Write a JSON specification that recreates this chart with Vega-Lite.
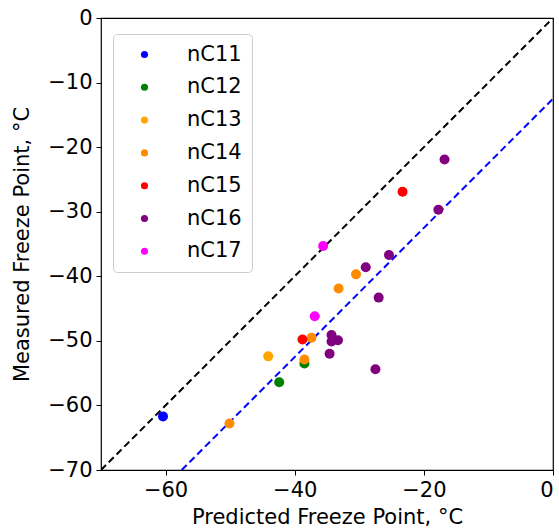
{
  "$schema": "https://vega.github.io/schema/vega-lite/v6.json",
  "width": 452,
  "height": 452,
  "autosize": {"type": "none"},
  "padding": {"left": 101, "top": 18, "right": 6, "bottom": 59},
  "background": "white",
  "config": {
    "font": "DejaVu Sans",
    "view": {"stroke": "black", "strokeWidth": 1.2},
    "axis": {
      "grid": false,
      "domain": false,
      "tickColor": "black",
      "tickSize": 5,
      "tickWidth": 1,
      "labelFontSize": 21,
      "labelColor": "black",
      "titleFontSize": 21,
      "titleFontWeight": "normal",
      "titleColor": "black",
      "labelExpr": "replace(datum.label, '-', '−')"
    }
  },
  "datasets": {
    "pts": [
      {"x": -60.4, "y": -61.7, "series": "nC11"},
      {"x": -42.4, "y": -56.4, "series": "nC12"},
      {"x": -38.5, "y": -53.5, "series": "nC12"},
      {"x": -44.1, "y": -52.4, "series": "nC13"},
      {"x": -38.5, "y": -52.9, "series": "nC14"},
      {"x": -37.4, "y": -49.5, "series": "nC14"},
      {"x": -50.1, "y": -62.8, "series": "nC14"},
      {"x": -33.2, "y": -41.9, "series": "nC14"},
      {"x": -30.5, "y": -39.7, "series": "nC14"},
      {"x": -23.3, "y": -26.9, "series": "nC15"},
      {"x": -38.8, "y": -49.8, "series": "nC15"},
      {"x": -16.8, "y": -21.9, "series": "nC16"},
      {"x": -17.75, "y": -29.7, "series": "nC16"},
      {"x": -25.4, "y": -36.7, "series": "nC16"},
      {"x": -29.0, "y": -38.6, "series": "nC16"},
      {"x": -27.0, "y": -43.3, "series": "nC16"},
      {"x": -34.3, "y": -49.1, "series": "nC16"},
      {"x": -34.3, "y": -50.1, "series": "nC16"},
      {"x": -33.3, "y": -49.9, "series": "nC16"},
      {"x": -34.6, "y": -52.0, "series": "nC16"},
      {"x": -27.5, "y": -54.4, "series": "nC16"},
      {"x": -35.6, "y": -35.3, "series": "nC17"},
      {"x": -36.9, "y": -46.2, "series": "nC17"}
    ],
    "lines": [
      {"x": -70, "y": -70, "line": "identity"},
      {"x": 0, "y": 0, "line": "identity"},
      {"x": -57.5, "y": -70, "line": "offset"},
      {"x": 0, "y": -12.5, "line": "offset"}
    ]
  },
  "layer": [
    {
      "data": {"name": "lines"},
      "mark": {"type": "line", "strokeDash": [7, 4], "strokeWidth": 2, "clip": true},
      "encoding": {
        "x": {"field": "x", "type": "quantitative"},
        "y": {"field": "y", "type": "quantitative"},
        "detail": {"field": "line"},
        "color": {"field": "line", "type": "nominal", "scale": {"domain": ["identity", "offset"], "range": ["black", "blue"]}, "legend": null}
      }
    },
    {
      "data": {"name": "pts"},
      "mark": {"type": "circle", "size": 100, "opacity": 1},
      "encoding": {
        "x": {"field": "x", "type": "quantitative", "scale": {"domain": [-70, 0], "nice": false},
              "axis": {"values": [-60, -40, -20, 0], "title": "Predicted Freeze Point, °C", "titlePadding": 6, "labelPadding": 4}},
        "y": {"field": "y", "type": "quantitative", "scale": {"domain": [-70, 0], "nice": false},
              "axis": {"values": [-70, -60, -50, -40, -30, -20, -10, 0], "title": "Measured Freeze Point, °C", "titlePadding": 15, "labelPadding": 4}},
        "fill": {
          "field": "series", "type": "nominal",
          "scale": {"domain": ["nC11", "nC12", "nC13", "nC14", "nC15", "nC16", "nC17"],
                    "range": ["blue", "green", "orange", "darkorange", "red", "purple", "magenta"]},
          "legend": {
            "title": null, "orient": "none", "legendX": 12, "legendY": 16,
            "labelFontSize": 21, "labelColor": "black", "symbolType": "circle", "symbolSize": 50,
            "symbolStrokeWidth": 0, "labelOffset": 32, "rowPadding": 10.8, "padding": 10,
            "fillColor": "white", "strokeColor": "#cccccc", "cornerRadius": 4, "offset": 0,
            "symbolOffset": 11
          }
        }
      }
    }
  ],
  "resolve": {"scale": {"color": "independent"}}
}
